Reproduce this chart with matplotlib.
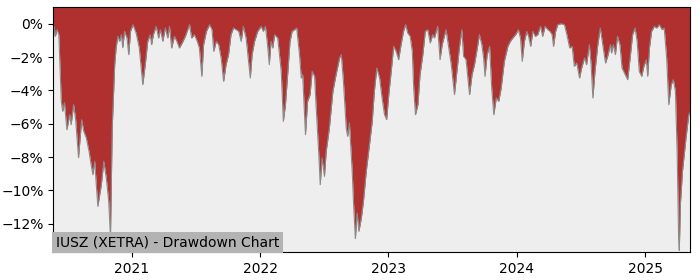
import pandas as pd
import matplotlib
matplotlib.use("Agg")
import matplotlib.pyplot as plt
from matplotlib.ticker import PercentFormatter
import matplotlib.dates as mdates

# drawdown (%)
dates = [
    "2020-05-22", "2020-05-25", "2020-05-28", "2020-06-02", "2020-06-07", "2020-06-14",
    "2020-06-18", "2020-06-23", "2020-06-30", "2020-07-08", "2020-07-12", "2020-07-19",
    "2020-07-25", "2020-08-02", "2020-08-11", "2020-08-17", "2020-08-24", "2020-09-01",
    "2020-09-07", "2020-09-12", "2020-09-17", "2020-09-26", "2020-10-06", "2020-10-13",
    "2020-10-20", "2020-10-27", "2020-11-01", "2020-11-06", "2020-11-13", "2020-11-17",
    "2020-11-22", "2020-11-27", "2020-12-02", "2020-12-06", "2020-12-11", "2020-12-18",
    "2020-12-23", "2020-12-28", "2021-01-04", "2021-01-13", "2021-01-22", "2021-02-01",
    "2021-02-09", "2021-02-15", "2021-02-22", "2021-02-26", "2021-03-03", "2021-03-11",
    "2021-03-18", "2021-03-23", "2021-03-30", "2021-04-06", "2021-04-13", "2021-04-18",
    "2021-04-24", "2021-05-02", "2021-05-09", "2021-05-16", "2021-05-24", "2021-06-02",
    "2021-06-14", "2021-06-20", "2021-06-28", "2021-07-06", "2021-07-12", "2021-07-19",
    "2021-07-24", "2021-08-01", "2021-08-10", "2021-08-17", "2021-08-22", "2021-08-29",
    "2021-09-05", "2021-09-12", "2021-09-19", "2021-09-26", "2021-10-03", "2021-10-10",
    "2021-10-17", "2021-10-25", "2021-11-01", "2021-11-08", "2021-11-14", "2021-11-22",
    "2021-11-27", "2021-12-04", "2021-12-09", "2021-12-16", "2021-12-25", "2022-01-04",
    "2022-01-10", "2022-01-16", "2022-01-22", "2022-01-27", "2022-02-01", "2022-02-06",
    "2022-02-11", "2022-02-20", "2022-03-02", "2022-03-08", "2022-03-14", "2022-03-21",
    "2022-03-27", "2022-04-02", "2022-04-09", "2022-04-15", "2022-04-23", "2022-04-28",
    "2022-05-02", "2022-05-10", "2022-05-16", "2022-05-23", "2022-05-29", "2022-06-05",
    "2022-06-09", "2022-06-17", "2022-06-21", "2022-06-26", "2022-07-03", "2022-07-08",
    "2022-07-17", "2022-07-27", "2022-08-05", "2022-08-15", "2022-08-20", "2022-08-26",
    "2022-09-03", "2022-09-07", "2022-09-12", "2022-09-20", "2022-09-24", "2022-09-29",
    "2022-10-04", "2022-10-09", "2022-10-16", "2022-10-22", "2022-10-30", "2022-11-08",
    "2022-11-16", "2022-11-22", "2022-11-29", "2022-12-07", "2022-12-14", "2022-12-21",
    "2022-12-27", "2023-01-02", "2023-01-09", "2023-01-16", "2023-01-23", "2023-01-30",
    "2023-02-06", "2023-02-13", "2023-02-19", "2023-02-25", "2023-03-04", "2023-03-10",
    "2023-03-14", "2023-03-19", "2023-03-26", "2023-04-01", "2023-04-09", "2023-04-16",
    "2023-04-23", "2023-04-30", "2023-05-07", "2023-05-12", "2023-05-21", "2023-05-28",
    "2023-06-03", "2023-06-14", "2023-06-22", "2023-06-29", "2023-07-08", "2023-07-15",
    "2023-07-22", "2023-07-29", "2023-08-03", "2023-08-10", "2023-08-20", "2023-08-27",
    "2023-09-03", "2023-09-11", "2023-09-17", "2023-09-24", "2023-09-29", "2023-10-03",
    "2023-10-09", "2023-10-16", "2023-10-22", "2023-10-28", "2023-11-04", "2023-11-11",
    "2023-11-18", "2023-11-27", "2023-12-07", "2023-12-14", "2023-12-21", "2023-12-29",
    "2024-01-06", "2024-01-12", "2024-01-17", "2024-01-23", "2024-01-30", "2024-02-04",
    "2024-02-10", "2024-02-16", "2024-02-23", "2024-03-01", "2024-03-09", "2024-03-15",
    "2024-03-22", "2024-03-30", "2024-04-05", "2024-04-11", "2024-04-15", "2024-04-21",
    "2024-04-27", "2024-05-07", "2024-05-16", "2024-05-23", "2024-05-31", "2024-06-07",
    "2024-06-13", "2024-06-20", "2024-06-28", "2024-07-04", "2024-07-12", "2024-07-18",
    "2024-07-26", "2024-07-31", "2024-08-05", "2024-08-11", "2024-08-19", "2024-08-26",
    "2024-09-02", "2024-09-10", "2024-09-16", "2024-09-24", "2024-09-27", "2024-10-02",
    "2024-10-08", "2024-10-14", "2024-10-21", "2024-10-27", "2024-11-03", "2024-11-12",
    "2024-11-19", "2024-11-26", "2024-12-03", "2024-12-09", "2024-12-15", "2024-12-22",
    "2024-12-28", "2025-01-04", "2025-01-08", "2025-01-13", "2025-01-19", "2025-01-27",
    "2025-02-03", "2025-02-10", "2025-02-18", "2025-02-24", "2025-03-03", "2025-03-09",
    "2025-03-16", "2025-03-22", "2025-03-28", "2025-04-02", "2025-04-06", "2025-04-08",
    "2025-04-11", "2025-04-17", "2025-04-27", "2025-05-05", "2025-05-09",
]
drawdown = [
    -1.0, -0.2, -0.76, -0.36, -0.66, -4.66,
    -5.26, -4.74, -6.36, -5.46, -6.06, -4.86,
    -5.76, -8.04, -5.76, -6.46, -6.84, -7.66,
    -8.46, -9.06, -8.26, -10.96, -9.66, -8.26,
    -9.24, -10.66, -12.8, -6.24, -2.46, -1.44,
    -0.76, -1.06, -0.66, -1.44, -0.46, -0.86,
    -1.86, -0.46, -0.06, -0.56, -1.46, -3.66,
    -2.26, -1.06, -0.66, -1.26, -0.66, -0.16,
    -0.86, -0.36, -1.06, -0.26, -0.86, -0.16,
    -1.46, -0.76, -1.06, -1.46, -1.16, -0.76,
    -0.06, -0.86, -0.66, -1.06, -1.46, -3.16,
    -1.26, -0.46, -0.06, -0.36, -1.66, -1.06,
    -1.26, -2.06, -3.46, -2.46, -1.86, -0.66,
    -0.26, -0.36, -0.46, -1.06, -0.16, -0.86,
    -1.86, -3.26, -1.86, -1.06, -0.46, -0.16,
    -0.46, -0.16, -1.26, -2.46, -1.06, -1.46,
    -0.66, -0.86, -2.86, -5.86, -4.86, -2.86,
    -1.06, -0.46, -0.36, -0.26, -1.86, -3.26,
    -3.06, -6.66, -4.66, -4.26, -2.86, -3.16,
    -4.86, -7.86, -9.66, -8.06, -9.16, -7.66,
    -6.26, -4.06, -3.06, -2.06, -1.86, -3.46,
    -6.26, -6.76, -5.96, -8.86, -10.86, -12.9,
    -11.36, -12.46, -11.66, -10.66, -8.86, -7.3,
    -5.86, -4.06, -2.66, -3.26, -4.46, -5.46,
    -5.76, -4.26, -2.86, -1.36, -1.66, -2.16,
    -1.26, -0.46, -0.06, -0.56, -0.76, -1.66,
    -3.86, -5.46, -4.86, -3.06, -1.86, -0.46,
    -0.36, -1.16, -0.66, -0.86, -0.16, -2.16,
    -1.26, -0.36, -1.46, -2.46, -4.26, -2.86,
    -1.46, -0.36, -1.96, -2.16, -4.26, -3.06,
    -2.46, -1.46, -0.66, -1.26, -2.06, -3.16,
    -1.86, -1.36, -3.86, -5.46, -4.46, -4.66,
    -3.86, -2.26, -1.36, -1.06, -0.86, -0.66,
    -0.36, -0.86, -2.26, -1.06, -0.46, -0.76,
    -1.36, -0.46, -0.76, -0.66, -0.16, -0.76,
    -0.16, -0.36, -0.46, -0.66, -1.36, -0.46,
    -0.06, 0.0, -0.06, -0.66, -1.46, -1.36,
    -2.56, -2.36, -3.26, -2.66, -2.06, -2.46,
    -1.26, -2.46, -4.46, -2.86, -1.26, -0.26,
    -1.26, -2.36, -1.96, -1.26, -1.76, -1.26,
    -1.86, -0.76, -1.26, -2.66, -2.96, -3.36,
    -2.06, -0.66, -0.26, -1.06, -2.86, -3.16,
    -2.56, -2.16, -3.16, -1.46, -0.46, -0.16,
    -0.26, -0.06, -0.36, -0.26, -2.06, -4.86,
    -3.66, -3.36, -4.06, -7.86, -12.86, -13.6,
    -10.86, -8.86, -6.86, -5.46, -5.3,
]

title = "IUSZ (XETRA) - Drawdown Chart"
y_top = 1.0
y_bottom = -13.7


def main():
    x = pd.to_datetime(dates)

    fig, ax = plt.subplots(figsize=(7, 2.8), dpi=100)
    fig.subplots_adjust(left=0.076, right=0.986, top=0.975, bottom=0.1)
    ax.set_facecolor("#eeeeee")

    ax.fill_between(x, drawdown, y_top, color="#b03030", linewidth=0)
    ax.plot(x, drawdown, color="#8a8a8a", linewidth=0.8)

    ax.set_xlim(x[0], x[-1])
    ax.set_ylim(y_bottom, y_top)
    ax.set_yticks(range(0, -13, -2))
    ax.yaxis.set_major_formatter(PercentFormatter(decimals=0))
    ax.xaxis.set_major_locator(mdates.YearLocator())
    ax.xaxis.set_major_formatter(mdates.DateFormatter("%Y"))

    ax.text(0.004, 0.012, title, transform=ax.transAxes, fontsize=10,
            va="bottom", ha="left",
            bbox=dict(facecolor="#b3b3b3", edgecolor="none", pad=2.5))

    fig.savefig("out.png")


if __name__ == "__main__":
    main()
